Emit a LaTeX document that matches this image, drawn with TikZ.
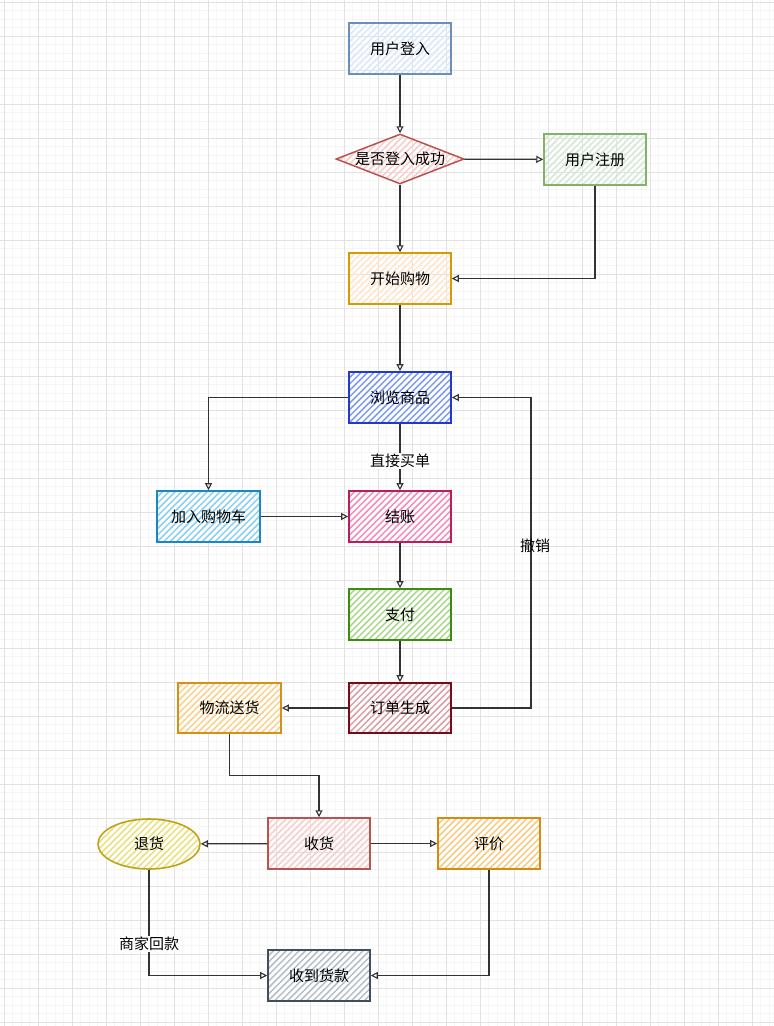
\documentclass[tikz,border=0pt]{standalone}
\usepackage{fontspec}
\setmainfont{Noto Sans CJK SC}
\usetikzlibrary{arrows.meta,shapes.geometric}
\definecolor{gridminor}{HTML}{F5F5F5}
\definecolor{gridmajor}{HTML}{E2E2E2}
\definecolor{edgecol}{HTML}{333333}
\definecolor{txt}{HTML}{000000}
\definecolor{sA}{HTML}{6C8EBF}\definecolor{hA}{HTML}{DAE8FC}
\definecolor{sB}{HTML}{B85450}\definecolor{hB}{HTML}{F8CECC}
\definecolor{sC}{HTML}{82B366}\definecolor{hC}{HTML}{D5E8D4}
\definecolor{sD}{HTML}{D79B00}\definecolor{hD}{HTML}{FFE6CC}
\definecolor{sE}{HTML}{2438CC}\definecolor{hE}{HTML}{7F9CF2}
\definecolor{sF}{HTML}{1A86C4}\definecolor{hF}{HTML}{8ED0F0}
\definecolor{sG}{HTML}{B8205A}\definecolor{hG}{HTML}{F08CC0}
\definecolor{sH}{HTML}{3D8A12}\definecolor{hH}{HTML}{A8D88A}
\definecolor{sI}{HTML}{7A0A15}\definecolor{hI}{HTML}{D9A0A8}
\definecolor{sJ}{HTML}{D6901A}\definecolor{hJ}{HTML}{FBD18A}
\definecolor{sK}{HTML}{BFA418}\definecolor{hK}{HTML}{ECE07A}
\definecolor{sL}{HTML}{D68A10}\definecolor{hL}{HTML}{F8CB80}
\definecolor{sM}{HTML}{3F4F60}\definecolor{hM}{HTML}{B6BEC6}
\tikzset{
  nodebase/.style={text=txt, font=\fontsize{15}{17}\selectfont, inner sep=0pt},
  box/.style={nodebase, rectangle, minimum width=102pt, minimum height=51pt},
  hatchlines/.style={path picture={
      \foreach \k in {-12,...,22}
        \draw[#1, line width=1.5pt] ([xshift=\k*6.4pt]path picture bounding box.south west) -- ++(80,-80);
  }},
  pale/.style 2 args={draw=#1, line width=1.5pt, hatchlines=#2},
  solidh/.style 2 args={draw=#1, line width=1.6pt, fill=white, hatchlines=#2},
  arr/.style={draw=edgecol, line width=1.3pt, -{Triangle[open,length=7pt,width=7pt,line width=1.1pt]}},
  lbl/.style={text=txt, font=\fontsize{15}{17}\selectfont, inner sep=1pt}
}
\begin{document}
\begin{tikzpicture}[x=1pt,y=-1pt]
\useasboundingbox (0,0) rectangle (774,1026);
\fill[white] (0,0) rectangle (774,1026);
% grid
\foreach \i in {0,...,91} {\draw[gridminor, line width=0.8pt] ({4.3+8.5*\i},0) -- ({4.3+8.5*\i},1026);}
\foreach \i in {0,...,121} {\draw[gridminor, line width=0.8pt] (0,{2+8.5*\i}) -- (774,{2+8.5*\i});}
\foreach \i in {0,...,22} {\draw[gridmajor, line width=0.9pt] ({4.3+34*\i},0) -- ({4.3+34*\i},1026);}
\foreach \i in {0,...,30} {\draw[gridmajor, line width=0.9pt] (0,{2+34*\i}) -- (774,{2+34*\i});}
% nodes
\node[box, pale={sA}{hA}] (login) at (400,48.5) {用户登入};
\node[nodebase, diamond, aspect=2.56, minimum width=128pt, minimum height=50pt, pale={sB}{hB}] (check) at (400,159) {是否登入成功};
\node[box, pale={sC}{hC}] (reg) at (595,159.5) {用户注册};
\node[box, pale={sD}{hD}] (start) at (400,278.5) {开始购物};
\node[box, solidh={sE}{hE}] (browse) at (400,397.5) {浏览商品};
\node[box, minimum width=103pt, solidh={sF}{hF}] (cart) at (208.5,516.5) {加入购物车};
\node[box, solidh={sG}{hG}] (checkout) at (400,516.5) {结账};
\node[box, solidh={sH}{hH}] (pay) at (400,614.5) {支付};
\node[box, minimum height=50pt, solidh={sI}{hI}] (order) at (400,708) {订单生成};
\node[box, minimum width=103pt, minimum height=50pt, solidh={sJ}{hJ}] (ship) at (229.5,708) {物流送货};
\node[box, pale={sB}{hB}] (recv) at (319,843.5) {收货};
\node[nodebase, ellipse, minimum width=102pt, minimum height=50pt, solidh={sK}{hK}] (ret) at (149,844) {退货};
\node[box, solidh={sL}{hL}] (rate) at (489,843.5) {评价};
\node[box, solidh={sM}{hM}] (paid) at (319,975.5) {收到货款};
% edges
\draw[arr] (login) -- (check);
\draw[arr] (check) -- (reg);
\draw[arr] (check) -- (start);
\draw[arr] (reg.south) |- (start.east);
\draw[arr] (start) -- (browse);
\draw[arr] (browse.west) -| (cart.north);
\draw[arr] (browse) -- node[lbl, fill=white, pos=0.56] (lblbuy) {直接买单} (checkout);
\draw[arr] (cart) -- (checkout);
\draw[arr] (checkout) -- (pay);
\draw[arr] (pay) -- (order);
\coordinate (cancelc) at (531,708);
\draw[arr] (order.east) -- (cancelc) |- (browse.east);
\node[lbl] (lblcancel) at (535,546) {撤销};
\draw[arr] (order) -- (ship);
\draw[arr] (ship.south) -- ++(0,42) -| (recv.north);
\draw[arr] (recv) -- (ret);
\draw[arr] (recv) -- (rate);
\draw[arr] (ret.south) |- node[lbl, fill=white, pos=0.35] (lblrefund) {商家回款} (paid.west);
\draw[arr] (rate.south) |- (paid.east);
\end{tikzpicture}
\end{document}
